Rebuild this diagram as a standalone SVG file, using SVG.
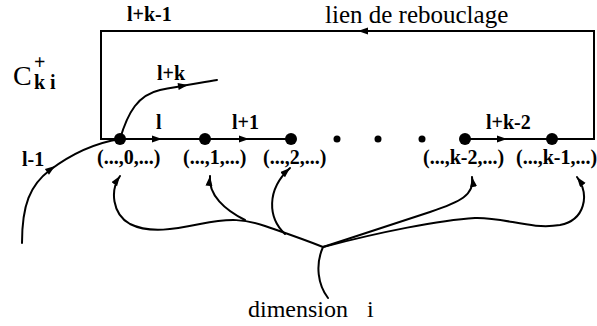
<svg xmlns="http://www.w3.org/2000/svg" xmlns:xlink="http://www.w3.org/1999/xlink" width="597" height="326" viewBox="0 0 597 326" font-family="'Liberation Serif', 'DejaVu Serif', serif">
<style>
.b{font-weight:bold;font-size:20px}
.r{font-size:25px}
.ln{fill:none;stroke:#000;stroke-width:2}
.cv{fill:none;stroke:#000;stroke-width:2;stroke-linecap:round}
.node{fill:#000}
</style>
<defs>
<marker id="ar" markerUnits="userSpaceOnUse" markerWidth="12" markerHeight="10" refX="10" refY="3.5" orient="auto">
<path d="M0,0 L10,3.5 L0,7 z" fill="#000"/>
</marker>
<path id="ah" d="M0,0 L-10,-3.5 L-10,3.5 Z" fill="#000"/>
</defs>
<rect width="597" height="326" fill="#fff"/>
<g id="connectors">
<path class="ln" d="M120,139 L290,139"/>
<path class="ln" d="M465,139 L594,139 L594,31 L101,31 L101,139 L120,139"/>
<use xlink:href="#ah" transform="translate(162,139)"/>
<use xlink:href="#ah" transform="translate(249,139)"/>
<use xlink:href="#ah" transform="translate(507,139)"/>
<use xlink:href="#ah" transform="translate(358,31) rotate(180)"/>
<path class="cv" d="M22,243 C22,205 30,185 50,170 C70,155 95,143 120,139"/>
<use xlink:href="#ah" transform="translate(55,166) rotate(-36)"/>
<path class="cv" d="M120,139 C128,112 138,95 160,90 C180,86 200,83 217,80"/>
<use xlink:href="#ah" transform="translate(188,85) rotate(-9)"/>
<path class="cv" d="M328,298 C318,285 315,265 323,247"/>
<path class="cv" d="M323,247 C300,238 285,233 265,226 C245,219 230,218 200,224 C175,229 150,234 130,224 C112,214 110,190 120,176" marker-end="url(#ar)"/>
<path class="cv" d="M245,220 C225,210 208,195 210,176" marker-end="url(#ar)"/>
<path class="cv" d="M285,234 C268,218 266,190 290,168" marker-end="url(#ar)"/>
<path class="cv" d="M323,247 C360,235 400,222 430,212 C460,202 475,195 472,177" marker-end="url(#ar)"/>
<path class="cv" d="M323,247 C380,232 440,220 475,218 C505,217 530,230 560,225 C585,220 590,195 577,177" marker-end="url(#ar)"/>
</g>
<g id="node-0"><circle class="node" cx="120" cy="139" r="6"/><text class="b" x="97" y="164">(...,0,...)</text></g>
<g id="node-1"><circle class="node" cx="205" cy="139" r="6"/><text class="b" x="183" y="164">(...,1,...)</text></g>
<g id="node-2"><circle class="node" cx="291" cy="139" r="6"/><text class="b" x="263" y="164">(...,2,...)</text></g>
<g id="ellipsis">
<circle class="node" cx="337" cy="139" r="3.5"/>
<circle class="node" cx="378" cy="139" r="3.5"/>
<circle class="node" cx="422" cy="139" r="3.5"/>
</g>
<g id="node-k-2"><circle class="node" cx="465" cy="139" r="6"/><text class="b" x="423" y="164">(...,k-2,...)</text></g>
<g id="node-k-1"><circle class="node" cx="552" cy="139" r="6"/><text class="b" x="516" y="164">(...,k-1,...)</text></g>
<g id="labels">
<text class="b" x="127" y="21">l+k-1</text>
<text class="r" x="325" y="23">lien de rebouclage</text>
<text x="13" y="85" font-size="28">C</text>
<text class="b" x="34" y="69">+</text>
<text class="b" x="34" y="89">k i</text>
<text class="b" x="157" y="80">l+k</text>
<text class="b" x="156" y="129">l</text>
<text class="b" x="232" y="129">l+1</text>
<text class="b" x="486" y="129">l+k-2</text>
<text class="b" x="22" y="166">l-1</text>
<text class="r" x="248" y="317" font-size="24" style="font-size:24px">dimension<tspan x="367">i</tspan></text>
</g>
</svg>
